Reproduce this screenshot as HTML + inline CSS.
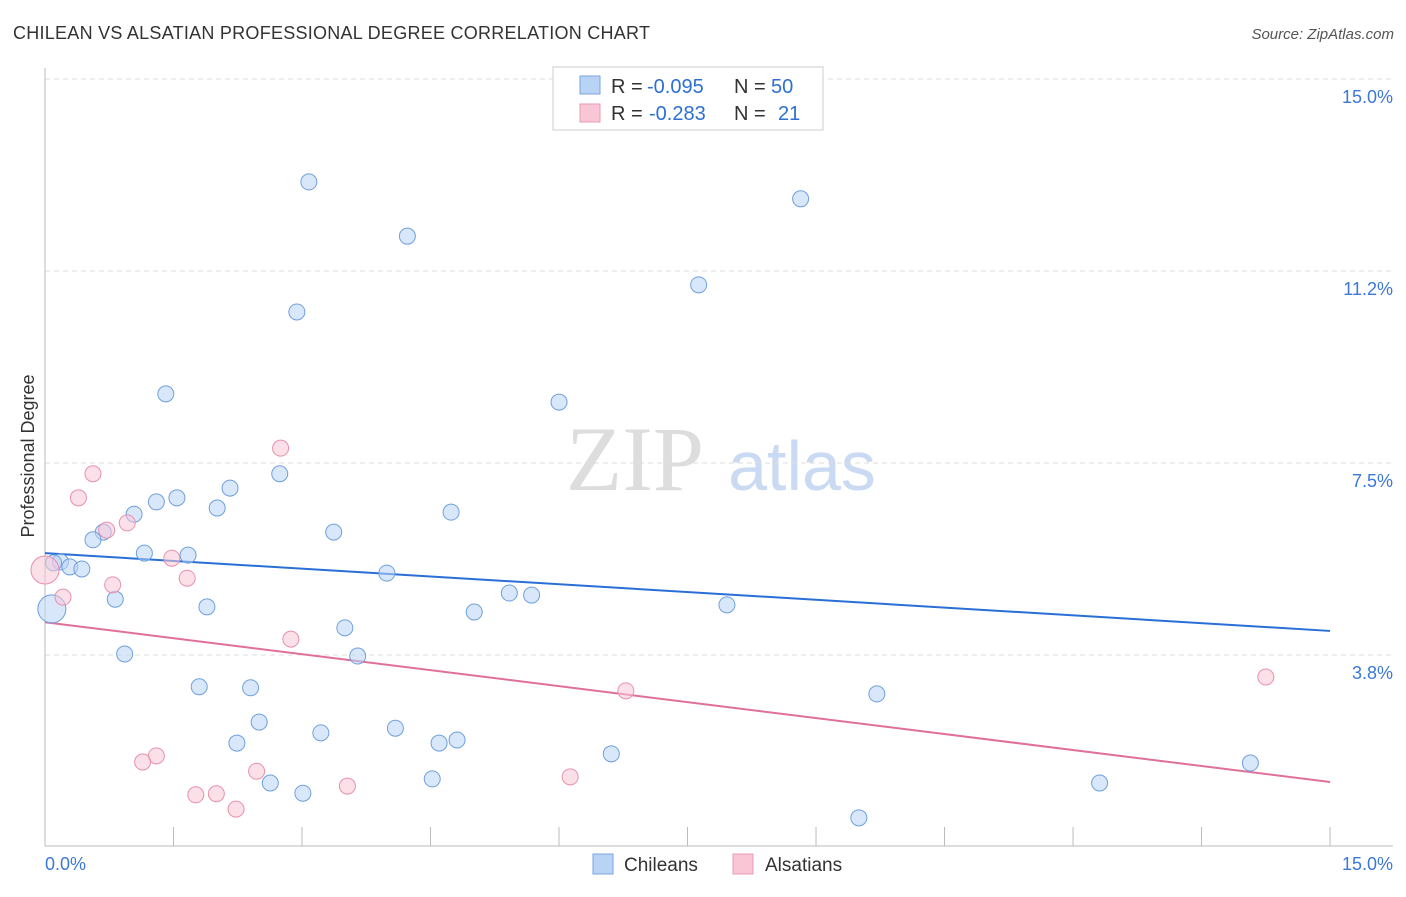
<!DOCTYPE html>
<html><head><meta charset="utf-8"><style>
body{margin:0;background:#fff;font-family:"Liberation Sans",sans-serif;}
svg text{font-family:"Liberation Sans",sans-serif;}
</style></head><body>
<svg id="chart" width="1406" height="892" xmlns="http://www.w3.org/2000/svg">
<text x="13" y="39" font-size="18" fill="#333" textLength="637">CHILEAN VS ALSATIAN PROFESSIONAL DEGREE CORRELATION CHART</text>
<text x="1394" y="39" font-size="15" fill="#555" text-anchor="end" font-style="italic">Source: ZipAtlas.com</text>
<text x="34" y="456" font-size="18" fill="#333" text-anchor="middle" transform="rotate(-90 34 456)">Professional Degree</text>
<g>
<text x="635" y="490" font-size="92" fill="#ddd" text-anchor="middle" style="font-family:'Liberation Serif',serif">ZIP</text>
<text x="802" y="490" font-size="70" fill="#c9daf2" text-anchor="middle">atlas</text>
</g>
<g id="grid"></g><g id="axes"></g><g id="lines"></g><g id="points"></g>
<g>
<rect x="553" y="67" width="270" height="63" fill="#fff" stroke="#ccc"/>
<rect x="580" y="76" width="20" height="18" fill="#b9d3f5" stroke="#7aa6e0"/>
<text x="611" y="93" font-size="20" fill="#333">R =</text>
<text x="647" y="93" font-size="20" fill="#2d6fd3">-0.095</text>
<text x="734" y="93" font-size="20" fill="#333">N =</text>
<text x="771" y="93" font-size="20" fill="#2d6fd3">50</text>
<rect x="580" y="104" width="20" height="18" fill="#f9c6d5" stroke="#e99ab6"/>
<text x="611" y="120" font-size="20" fill="#333">R =</text>
<text x="649" y="120" font-size="20" fill="#2d6fd3">-0.283</text>
<text x="734" y="120" font-size="20" fill="#333">N =</text>
<text x="778" y="120" font-size="20" fill="#2d6fd3">21</text>
</g>
<g>
<rect x="593" y="854" width="20" height="20" fill="#b9d3f5" stroke="#7aa6e0"/>
<text x="624" y="871" font-size="19" fill="#333">Chileans</text>
<rect x="733" y="854" width="20" height="20" fill="#f9c6d5" stroke="#e99ab6"/>
<text x="765" y="871" font-size="19" fill="#333">Alsatians</text>
</g>
</svg>
<script>
const yTicks=[3.75,7.5,11.25,15];
const yTickLabels=["3.8%","7.5%","11.2%","15.0%"];
const xTicks=[1.5,3,4.5,6,7.5,9,10.5,12,13.5,15];
const chileX=[3.08,4.23,8.82,2.94,7.63,1.41,6.00,2.74,2.16,1.54,1.30,2.01,4.74,1.04,0.68,0.56,3.37,1.16,1.67,0.18,0.29,0.43,3.99,5.42,5.68,0.82,1.89,5.01,7.96,0.08,3.50,0.93,3.65,1.80,2.40,9.71,2.50,4.09,3.22,2.24,4.60,4.81,6.61,14.07,2.63,4.52,12.31,3.01,9.50,0.10];
const chileY=[12.99,11.93,12.66,10.45,10.98,8.85,8.69,7.29,7.01,6.82,6.74,6.62,6.54,6.50,6.15,6.00,6.15,5.74,5.70,5.57,5.47,5.43,5.35,4.96,4.92,4.84,4.69,4.59,4.73,4.65,4.28,3.77,3.73,3.13,3.11,2.99,2.44,2.32,2.23,2.03,2.03,2.09,1.82,1.64,1.25,1.33,1.25,1.05,0.57,5.55];
const alsX=[0,0.56,0.39,2.75,0.96,0.72,1.48,0.79,1.66,0.21,2.87,6.78,14.25,1.30,1.14,2.47,6.13,3.53,1.76,2.00,2.23];
const alsY=[5.41,7.29,6.82,7.79,6.33,6.19,5.64,5.12,5.25,4.88,4.06,3.05,3.32,1.78,1.66,1.48,1.37,1.19,1.02,1.04,0.74];
const chileTrend=[5.74,4.22];
const alsTrend=[4.39,1.27];
const NS="http://www.w3.org/2000/svg";
const X=v=>45+v*85.67, Y=v=>847-v*51.2;
function mk(t,a,p){const e=document.createElementNS(NS,t);for(const k in a)e.setAttribute(k,a[k]);document.getElementById(p).appendChild(e);return e;}
yTicks.forEach((t,i)=>{
 const g=mk('line',{x1:45,x2:1393,y1:Y(t),y2:Y(t),stroke:'#ddd','stroke-dasharray':'5,4'},'grid');
 
 
 const l=mk('text',{x:1393,y:Y(t)+24,'font-size':18,fill:'#3b78d8','text-anchor':'end'},'axes');
 l.textContent=yTickLabels[i];
 
 
});
mk('line',{x1:45,x2:45,y1:68,y2:846,stroke:'#bbb'},'axes');
mk('line',{x1:45,x2:1393,y1:846,y2:846,stroke:'#bbb'},'axes');
xTicks.forEach(t=>{
 const k=mk('line',{x1:X(t),x2:X(t),y1:827,y2:846,stroke:'#bbb'},'axes');
 
 
});
let a=mk('text',{x:45,y:870,'font-size':18,fill:'#3b78d8'},'axes');a.textContent='0.0%';


a=mk('text',{x:1393,y:870,'font-size':18,fill:'#3b78d8','text-anchor':'end'},'axes');a.textContent='15.0%';


function pts(xs,ys,fill,stroke,name,bigIdx){
 xs.forEach((x,i)=>{
  const c=mk('circle',{cx:X(x),cy:Y(ys[i]),r:bigIdx.includes(i)?14:8,fill:fill,'fill-opacity':0.55,stroke:stroke,'stroke-width':1},'points');
  
  
 });
}
pts(chileX,chileY,'#b9d3f5','#6fa0dc','chilean-point',[29]);
pts(alsX,alsY,'#f9c6d5','#e890b0','alsatian-point',[0]);
let t=mk('line',{x1:X(0),y1:Y(chileTrend[0]),x2:X(15),y2:Y(chileTrend[1]),stroke:'#2a6fd6','stroke-width':2},'lines');


t=mk('line',{x1:X(0),y1:Y(alsTrend[0]),x2:X(15),y2:Y(alsTrend[1]),stroke:'#e0709a','stroke-width':2},'lines');


</script>
</body></html>
